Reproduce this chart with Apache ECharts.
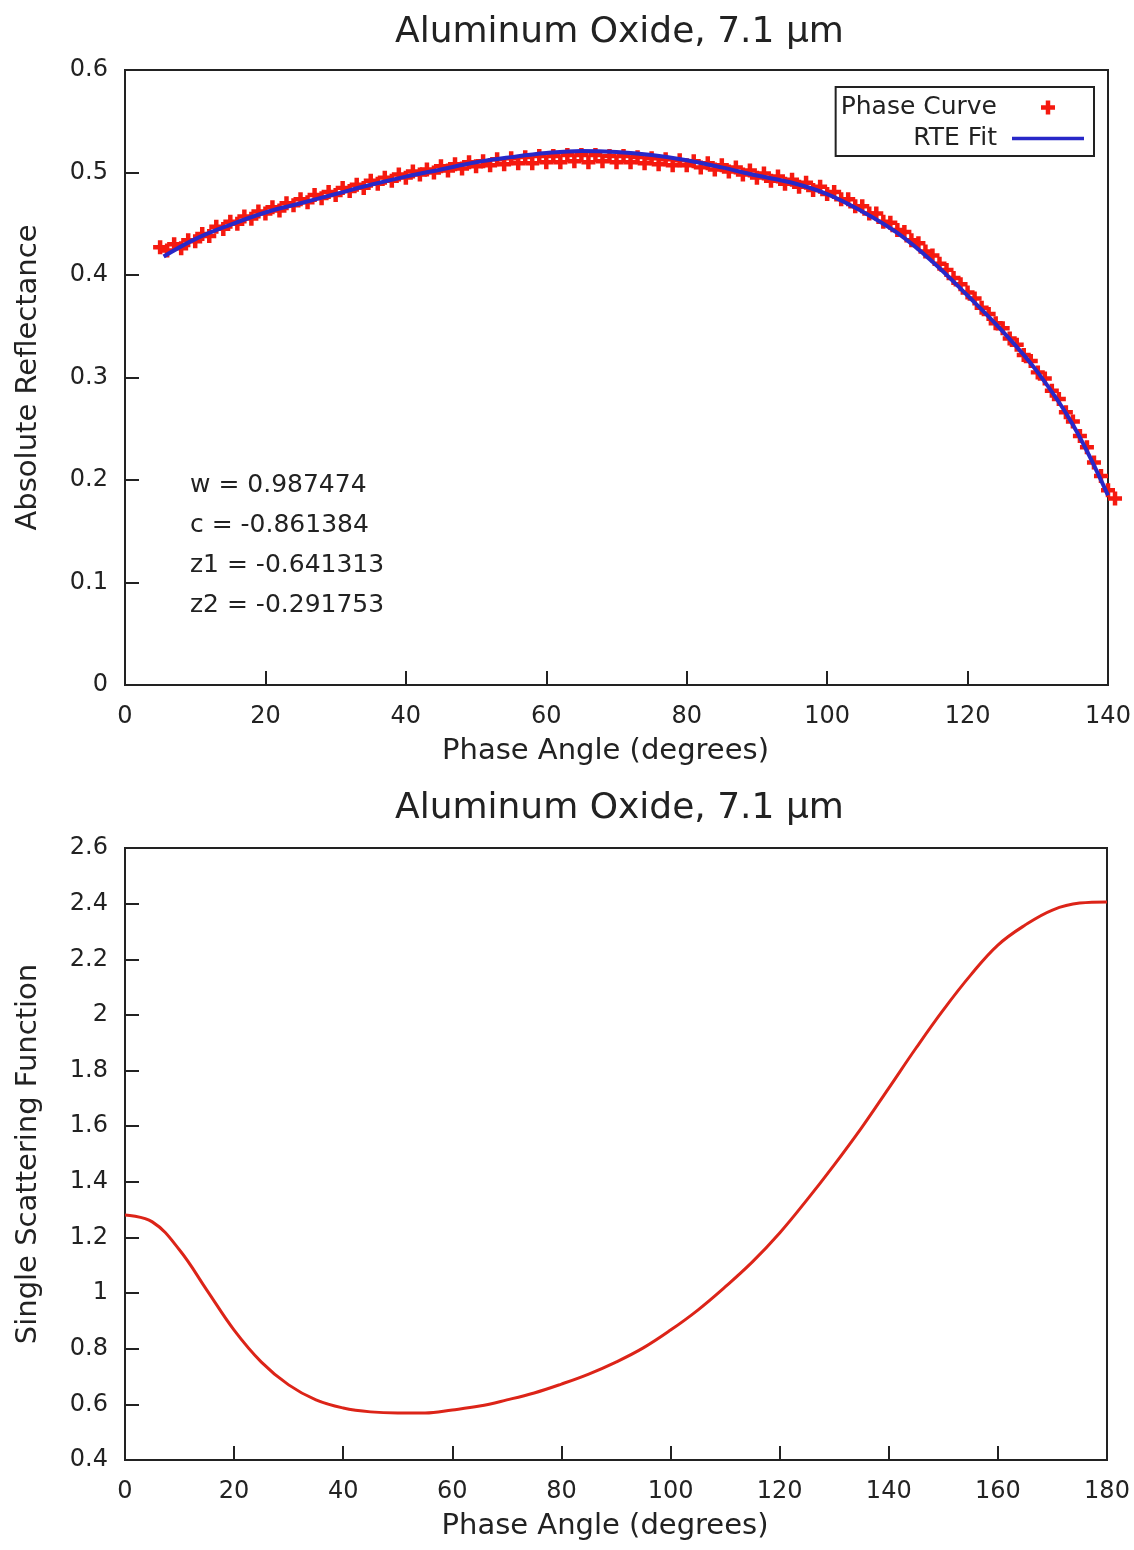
<!DOCTYPE html>
<html>
<head>
<meta charset="utf-8">
<script src="https://cdn.jsdelivr.net/npm/echarts@6/dist/echarts.min.js"></script>
<style>
html,body{margin:0;padding:0;background:#fff;}
#c{width:1134px;height:1550px;}
</style>
</head>
<body>
<div id="c"></div>
<script>
var chartTitle = 'Aluminum Oxide, 7.1 μm';
var xName = 'Phase Angle (degrees)';
var yNameTop = 'Absolute Reflectance';
var yNameBottom = 'Single Scattering Function';
var fitParams = ['w = 0.987474', 'c = -0.861384', 'z1 = -0.641313', 'z2 = -0.291753'];

// Measured phase curve (top panel)
var phaseAngle = [5,6,7,8,9,10,11,12,13,14,15,16,17,18,19,20,21,22,23,24,25,26,27,28,29,30,
  31,32,33,34,35,36,37,38,39,40,41,42,43,44,45,46,47,48,49,50,51,52,53,54,55,56,57,58,59,60,
  61,62,63,64,65,66,67,68,69,70,71,72,73,74,75,76,77,78,79,80,81,82,83,84,85,86,87,88,89,90,
  91,92,93,94,95,96,97,98,99,100,101,102,103,104,105,106,107,108,109,110,111,112,113,114,115,
  116,117,118,119,120,121,122,123,124,125,126,127,128,129,130,131,132,133,134,135,136,137,138,139,140,141];
var phaseReflectance = [0.427,0.424,0.430,0.426,0.434,0.433,0.440,0.438,0.447,0.445,0.452,0.450,0.457,0.455,0.462,0.460,
  0.466,0.463,0.470,0.468,0.474,0.471,0.478,0.475,0.481,0.478,0.485,0.482,0.488,0.485,0.492,0.489,0.495,0.492,0.498,0.495,
  0.501,0.498,0.503,0.500,0.506,0.502,0.508,0.504,0.510,0.506,0.511,0.507,0.513,0.508,0.514,0.509,0.515,0.509,0.516,0.510,
  0.516,0.510,0.517,0.511,0.517,0.510,0.517,0.511,0.516,0.510,0.516,0.510,0.515,0.509,0.514,0.508,0.513,0.507,0.512,0.507,
  0.511,0.505,0.509,0.503,0.507,0.501,0.505,0.498,0.502,0.495,0.499,0.492,0.496,0.489,0.493,0.486,0.490,0.483,0.486,0.479,
  0.481,0.474,0.474,0.467,0.467,0.460,0.460,0.452,0.451,0.444,0.442,0.434,0.431,0.423,0.419,0.411,0.405,0.397,0.391,0.383,
  0.377,0.368,0.362,0.353,0.348,0.338,0.332,0.322,0.316,0.305,0.299,0.287,0.279,0.266,0.257,0.243,0.232,0.217,0.204,0.190,0.182];

// RTE fit (top panel)
var fitAngle = [5.5,10,15,20,25,30,35,40,45,50,55,60,65,70,75,80,85,90,95,100,105,110,115,120,125,130,135,140];
var fitReflectance = [0.418,0.435,0.449,0.461,0.470,0.479,0.488,0.496,0.503,0.510,0.515,0.519,0.521,0.520,0.517,0.512,
  0.505,0.497,0.490,0.479,0.462,0.441,0.413,0.380,0.345,0.305,0.254,0.185];

// Single scattering function (bottom panel)
var ssfAngle = [0,5,10,15,20,25,30,35,40,45,50,55,60,65,70,75,80,85,90,95,100,105,110,115,120,125,130,135,140,145,150,155,160,165,170,175,180];
var ssfValue = [1.281,1.256,1.155,1.011,0.867,0.752,0.670,0.616,0.587,0.573,0.569,0.569,0.580,0.594,0.616,0.641,0.673,0.709,
  0.752,0.803,0.867,0.939,1.022,1.112,1.216,1.335,1.461,1.594,1.737,1.881,2.018,2.143,2.251,2.323,2.377,2.402,2.406];

var topXTicks = {min:0, max:140, interval:20};
var topYTicks = {min:0, max:0.6, interval:0.1};
var botXTicks = {min:0, max:180, interval:20};
var botYTicks = {min:0.4, max:2.6, interval:0.2};

var FONT = 'DejaVu Sans';
var ink = '#222';
var plusPath = 'path://M3.4,0H6.6V3.4H10V6.6H6.6V10H3.4V6.6H0V3.4H3.4Z';
var linePath = 'path://M0,0H100V5H0Z';

function zip(a, b){ return a.map(function(v,i){ return [v, b[i]]; }); }

function xAxis(t, idx){
  return {
    type:'value', gridIndex:idx, min:t.min, max:t.max, interval:t.interval,
    name:xName, nameLocation:'middle', nameGap:52,
    nameTextStyle:{fontFamily:FONT, fontSize:29, color:ink, padding:[0,22,0,0]},
    axisLine:{show:true, onZero:false, lineStyle:{color:ink, width:2}},
    axisTick:{show:true, inside:true, length:14, lineStyle:{color:ink, width:2}},
    axisLabel:{fontFamily:FONT, fontSize:24, color:ink, margin:20},
    splitLine:{show:false}
  };
}
function yAxis(t, idx, name){
  return {
    type:'value', gridIndex:idx, min:t.min, max:t.max, interval:t.interval,
    name:name, nameLocation:'middle', nameGap:82,
    nameTextStyle:{fontFamily:FONT, fontSize:29, color:ink},
    axisLine:{show:true, onZero:false, lineStyle:{color:ink, width:2}},
    axisTick:{show:true, inside:true, length:14, lineStyle:{color:ink, width:2}},
    axisLabel:{fontFamily:FONT, fontSize:24, color:ink, margin:17},
    splitLine:{show:false}
  };
}

var chart = echarts.init(document.getElementById('c'), null, {renderer:'canvas'});
chart.setOption({
  backgroundColor:'#fff',
  animation:false,
  title:[
    {text:chartTitle, left:390, top:10, textStyle:{fontFamily:FONT, fontSize:36, fontWeight:'normal', color:ink}},
    {text:chartTitle, left:390, top:786, textStyle:{fontFamily:FONT, fontSize:36, fontWeight:'normal', color:ink}}
  ],
  grid:[
    {left:125, top:70, width:983, height:615, show:true, borderColor:ink, borderWidth:2, backgroundColor:'transparent'},
    {left:125, top:848, width:982, height:612, show:true, borderColor:ink, borderWidth:2, backgroundColor:'transparent'}
  ],
  xAxis:[xAxis(topXTicks,0), xAxis(botXTicks,1)],
  yAxis:[yAxis(topYTicks,0,yNameTop), yAxis(botYTicks,1,yNameBottom)],
  legend:{
    data:[{name:'Phase Curve', icon:plusPath}, {name:'RTE Fit', icon:linePath}],
    orient:'vertical', align:'right', right:40, top:87,
    itemWidth:72, itemHeight:14, itemGap:6,
    padding:[8,10,5,5],
    borderColor:ink, borderWidth:2,
    textStyle:{fontFamily:FONT, fontSize:25, color:ink, width:166, align:'right', padding:[0,10,0,0]}
  },
  graphic:[{
    type:'group', left:190, top:473,
    children: fitParams.map(function(s,i){
      return {type:'text', x:0, y:i*40, style:{text:s, font:'25px "DejaVu Sans"', fill:ink}};
    })
  }],
  series:[
    {
      name:'Phase Curve', type:'scatter', xAxisIndex:0, yAxisIndex:0,
      data:zip(phaseAngle, phaseReflectance),
      symbol:plusPath, symbolSize:14, clip:false,
      itemStyle:{color:'#f5190f', opacity:1}, z:2
    },
    {
      name:'RTE Fit', type:'line', xAxisIndex:0, yAxisIndex:0,
      data:zip(fitAngle, fitReflectance), smooth:0.4,
      showSymbol:false, symbol:'none',
      lineStyle:{color:'#2828c8', width:4}, itemStyle:{color:'#2828c8'}, z:3
    },
    {
      name:'SSF', type:'line', xAxisIndex:1, yAxisIndex:1,
      data:zip(ssfAngle, ssfValue), smooth:0.4,
      showSymbol:false, symbol:'none',
      lineStyle:{color:'#dc2418', width:3}, z:3
    }
  ]
});
</script>
</body>
</html>
